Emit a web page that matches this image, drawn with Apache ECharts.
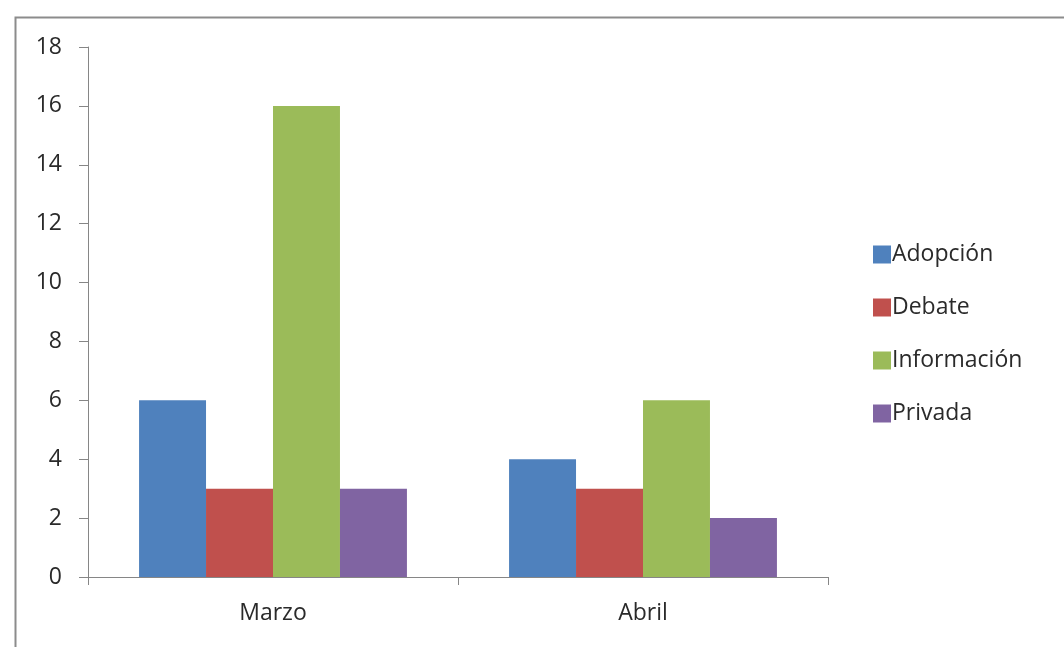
<!DOCTYPE html>
<html>
<head>
<meta charset="utf-8">
<script src="https://cdn.jsdelivr.net/npm/echarts@6/dist/echarts.min.js"></script>
<style>html,body{margin:0;padding:0;background:#fff;}#c{width:1064px;height:647px;}</style>
</head>
<body>
<div id="c"></div>
<script>
const categories = ['Marzo', 'Abril'];
const seriesNames = ['Adopción', 'Debate', 'Información', 'Privada'];
const adopcion = [6, 4];
const debate = [3, 3];
const informacion = [16, 6];
const privada = [3, 2];
const colors = ['#4F81BD', '#C0504D', '#9BBB59', '#8064A2'];
const yTicks = [0, 2, 4, 6, 8, 10, 12, 14, 16, 18];

const values = [adopcion, debate, informacion, privada];
const chart = echarts.init(document.getElementById('c'));
const font = '"Open Sans", "DejaVu Sans", sans-serif';
chart.setOption({
  animation: false,
  color: colors,
  graphic: [{
    type: 'rect', left: 13, top: 15, shape: {width: 1100, height: 700},
    style: {fill: 'none', stroke: '#8c8c8c', lineWidth: 2}, silent: true, z: -1
  }],
  grid: {left: 88, top: 47, right: 236, bottom: 70, containLabel: false},
  legend: {
    orient: 'vertical', left: 868, top: 238,
    itemWidth: 18, itemHeight: 18, itemGap: 30,
    icon: 'rect',
    textStyle: {fontFamily: font, fontSize: 23, color: '#2a2a2a', lineHeight: 18, padding: [0, 0, 0, -4]},
    data: seriesNames
  },
  xAxis: {
    type: 'category', data: categories,
    axisLine: {lineStyle: {color: '#868686', width: 1}},
    axisTick: {show: true, length: 8, inside: false, lineStyle: {color: '#868686'}},
    axisLabel: {fontFamily: font, fontSize: 23, color: '#2a2a2a', margin: 25}
  },
  yAxis: {
    type: 'value', min: 0, max: 18, interval: 2,
    axisLine: {show: true, lineStyle: {color: '#868686', width: 1}},
    axisTick: {show: true, length: 9, lineStyle: {color: '#868686'}},
    splitLine: {show: false},
    axisLabel: {fontFamily: font, fontSize: 23, color: '#2a2a2a', margin: 26,
      formatter: v => yTicks.includes(v) ? String(v) : ''}
  },
  series: seriesNames.map((n, i) => ({
    name: n, type: 'bar', data: values[i],
    barGap: '0%', barCategoryGap: '27.6%'
  }))
});
</script>
</body>
</html>
